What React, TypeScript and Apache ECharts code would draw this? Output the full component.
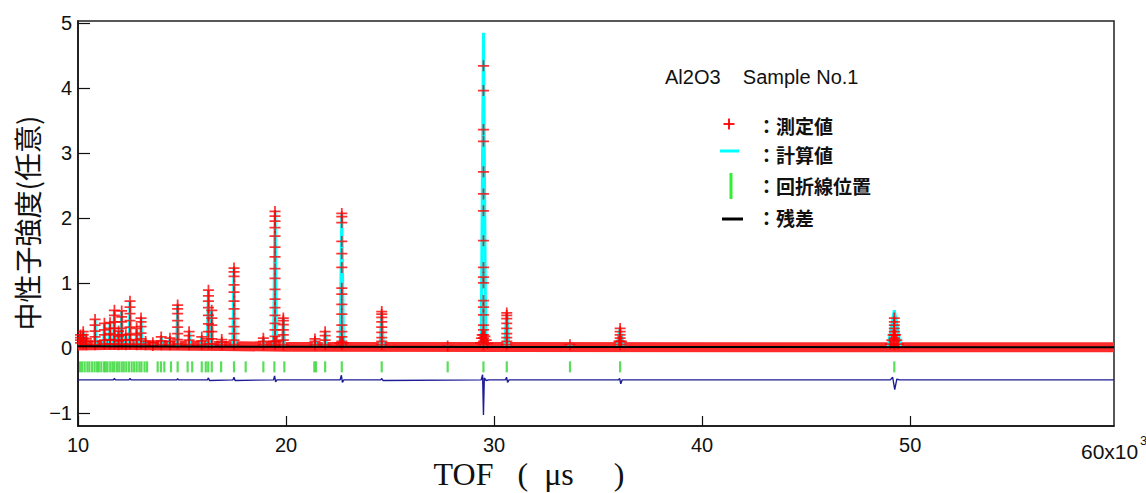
import React, { useEffect, useRef } from "react";
import * as echarts from "echarts";

// ---- axis ticks (TOF in 10^3 µs, intensity arbitrary) ----
const xTicks = [10, 20, 30, 40, 50];
const yTicks = [-1, 0, 1, 2, 3, 4, 5];

// ---- observed peaks: TOF position and stacked observed intensities ----
const peakPositions = [
  10.12, 10.25, 10.4, 10.82, 11.27, 11.54, 11.75, 11.95, 12.1, 12.3, 12.5, 12.82, 13.03, 13.25,
  13.6, 14.0, 14.42, 14.79, 15.34, 15.95, 16.27, 16.43, 16.91, 17.5, 18.91, 19.47, 19.87, 21.39,
  21.88, 22.68, 24.6, 27.77, 29.49, 30.61, 33.65, 36.06, 49.24,
];
const observedStacks = [
  [0.08, 0.12, 0.16, 0.2],
  [0.06, 0.1, 0.15, 0.2, 0.25],
  [0.05, 0.1, 0.14],
  [0.05, 0.1, 0.17, 0.26, 0.35, 0.44],
  [0.06, 0.12, 0.2, 0.28, 0.38],
  [0.06, 0.13, 0.22, 0.3, 0.39],
  [0.06, 0.12, 0.2, 0.3, 0.4, 0.5, 0.58],
  [0.05, 0.1, 0.18, 0.26],
  [0.06, 0.12, 0.2, 0.3, 0.4, 0.48, 0.57],
  [0.05, 0.12, 0.2],
  [0.06, 0.13, 0.22, 0.32, 0.42, 0.53, 0.63, 0.72],
  [0.05, 0.12, 0.2, 0.3],
  [0.06, 0.14, 0.23, 0.33, 0.4, 0.46],
  [0.05, 0.1],
  [0.04, 0.08],
  [0.05, 0.11, 0.17],
  [0.05, 0.1, 0.15],
  [0.06, 0.13, 0.22, 0.32, 0.42, 0.53, 0.6, 0.66],
  [0.05, 0.12, 0.19, 0.25],
  [0.05, 0.11, 0.17],
  [0.06, 0.14, 0.25, 0.37, 0.5, 0.62, 0.72, 0.8, 0.89],
  [0.06, 0.14, 0.25, 0.35, 0.46, 0.58],
  [0.05, 0.09, 0.13],
  [0.05, 0.12, 0.22, 0.33, 0.45, 0.6, 0.72, 0.86, 0.97, 1.1, 1.17, 1.23],
  [0.05, 0.1, 0.15],
  [0.05, 0.1, 0.18, 0.28, 0.38, 0.5, 0.62, 0.75, 0.9, 1.07, 1.22, 1.4, 1.55, 1.72, 1.85, 1.95, 2.03, 2.1],
  [0.05, 0.12, 0.2, 0.28, 0.36, 0.42, 0.46],
  [0.05, 0.1, 0.14],
  [0.05, 0.12, 0.19, 0.25],
  [0.05, 0.1, 0.17, 0.25, 0.35, 0.52, 0.67, 0.83, 0.92, 1.24, 1.45, 1.64, 1.93, 2.02, 2.07],
  [0.05, 0.1, 0.16, 0.24, 0.32, 0.4, 0.47, 0.52, 0.56],
  [0.03],
  [0.05, 0.1, 0.15, 0.2, 0.28, 0.35, 0.51, 0.63, 0.73, 1.0, 1.09, 1.24, 1.65, 2.11, 2.37, 2.71, 3.18, 3.36, 3.96, 4.34],
  [0.05, 0.1, 0.16, 0.22, 0.3, 0.38, 0.45, 0.5, 0.54],
  [0.05],
  [0.05, 0.1, 0.15, 0.2, 0.25, 0.3],
  [0.05, 0.1, 0.15, 0.2, 0.25, 0.3, 0.35, 0.4, 0.46],
];
// observed points on the flanks of the broader peaks
const observedFlanks: [number, number][] = [
  [19.4, 0.1], [19.55, 0.1], [22.6, 0.08], [22.75, 0.08],
  [29.35, 0.08], [29.4, 0.15], [29.43, 0.2], [29.56, 0.18], [29.62, 0.12], [29.68, 0.07],
  [36.0, 0.1], [36.12, 0.1],
  [49.05, 0.06], [49.12, 0.12], [49.18, 0.2], [49.3, 0.2], [49.36, 0.12], [49.43, 0.06],
];
// observed background band
const observedBackground: [number, number][] = [
  [10, 0.04], [12, 0.05], [14, 0.04], [17, 0.03], [20, 0.02], [30, 0.015], [45, 0.012], [59.8, 0.012],
];

// ---- calculated profile ----
const calcTops = [
  0.2, 0.25, 0.14, 0.44, 0.38, 0.39, 0.58, 0.26, 0.57, 0.2, 0.72, 0.3, 0.46, 0.1, 0.08, 0.17, 0.15,
  0.66, 0.25, 0.17, 0.89, 0.58, 0.13, 1.23, 0.15, 2.12, 0.46, 0.14, 0.25, 2.07, 0.56, 0.03, 4.85,
  0.54, 0.05, 0.3, 0.58,
];
const calcHalfWidths = [
  0.04, 0.04, 0.04, 0.04, 0.04, 0.04, 0.04, 0.04, 0.04, 0.04, 0.04, 0.04, 0.04, 0.04, 0.04, 0.05, 0.05,
  0.05, 0.05, 0.05, 0.05, 0.05, 0.05, 0.06, 0.06, 0.07, 0.06, 0.06, 0.06, 0.08, 0.08, 0.08, 0.11,
  0.1, 0.1, 0.16, 0.3,
];
const calcBackground: [number, number][] = [
  [10, 0.025], [20, 0.02], [30, 0.015], [59.8, 0.012],
];

// ---- reflection (diffraction line) positions ----
const reflectionPositions = [
  10.1, 10.2, 10.32, 10.45, 10.55, 10.68, 10.8, 10.92, 11.0, 11.12, 11.25, 11.33, 11.42, 11.55, 11.66,
  11.75, 11.87, 11.98, 12.1, 12.2, 12.32, 12.45, 12.58, 12.7, 12.82, 12.95, 13.05, 13.2, 13.32,
  13.83, 13.99, 14.15, 14.47, 14.79, 15.27, 15.49, 15.95, 16.14, 16.26, 16.43, 16.88, 17.5, 18.06,
  18.91, 19.44, 19.92, 21.36, 21.44, 21.88, 22.68, 24.6, 27.77, 29.49, 30.61, 33.65, 36.06, 49.24,
];
const reflectionLevel = -0.29;

// ---- residual (offset) ----
const residual: [number, number][] = [
  [10, -0.49], [11.7, -0.49], [11.75, -0.47], [11.8, -0.49], [12.45, -0.49], [12.5, -0.47], [12.55, -0.49],
  [14.75, -0.49], [14.79, -0.47], [14.83, -0.49], [16.22, -0.49], [16.27, -0.46], [16.32, -0.5],
  [17.45, -0.49], [17.5, -0.45], [17.55, -0.5], [19.4, -0.49], [19.45, -0.43], [19.5, -0.52], [19.56, -0.49],
  [22.6, -0.49], [22.66, -0.42], [22.71, -0.53], [22.78, -0.49], [24.55, -0.49], [24.6, -0.47], [24.66, -0.5],
  [29.38, -0.49], [29.45, -0.41], [29.49, -1.03], [29.53, -0.46], [29.62, -0.5], [29.75, -0.49],
  [30.55, -0.49], [30.6, -0.45], [30.65, -0.53], [30.72, -0.49],
  [35.98, -0.49], [36.04, -0.47], [36.09, -0.55], [36.16, -0.49],
  [49.05, -0.49], [49.16, -0.45], [49.26, -0.64], [49.36, -0.48], [49.5, -0.49], [59.8, -0.49],
];

const PLUS = "path://M4.2,0h1.6v4.2h4.2v1.6h-4.2v4.2h-1.6v-4.2h-4.2v-1.6h4.2z";

export default function App() {
  const ref = useRef<HTMLDivElement>(null);
  useEffect(() => {
    if (!ref.current) return;
    const chart = echarts.init(ref.current, undefined, { renderer: "svg" });

    const observedPoints: [number, number][] = [];
    peakPositions.forEach((p, i) => {
      observedStacks[i].forEach((v) => observedPoints.push([p, v]));
    });
    observedFlanks.forEach((pt) => observedPoints.push(pt));

    const calcLine: ([number, number] | null)[] = [];
    peakPositions.forEach((p, i) => {
      const w = calcHalfWidths[i];
      calcLine.push([p - w, 0.02], [p, calcTops[i]], [p + w, 0.02]);
      calcLine.push(null);
    });

    const fmt = (v: number) => (v < 0 ? "\u2212" + Math.abs(v) : String(v));
    const cjk = "'Noto Sans CJK JP', 'Noto Sans', sans-serif";
    const sans = "'Liberation Sans', Arial, sans-serif";

    chart.setOption({
      animation: false,
      backgroundColor: "#ffffff",
      grid: {
        left: 78, right: 32, top: 21, bottom: 67,
        show: true, borderColor: "#222", borderWidth: 1.5, backgroundColor: "transparent",
      },
      xAxis: {
        type: "value", min: 10, max: 59.8,
        axisLine: { show: true, onZero: false, lineStyle: { color: "#111", width: 1.5 } },
        axisTick: { show: true, inside: true, length: 10, customValues: xTicks, lineStyle: { color: "#111", width: 1.2 } },
        axisLabel: { customValues: xTicks, margin: 9, fontSize: 20, color: "#111", fontFamily: sans, formatter: fmt },
        splitLine: { show: false },
      },
      yAxis: {
        type: "value", min: -1.2, max: 5.03,
        axisLine: { show: true, onZero: false, lineStyle: { color: "#111", width: 1.5 } },
        axisTick: { show: true, inside: true, length: 12, customValues: yTicks, lineStyle: { color: "#111", width: 1.2 } },
        axisLabel: { customValues: yTicks, margin: 6, fontSize: 20, color: "#111", fontFamily: sans, formatter: fmt },
        splitLine: { show: false },
      },
      series: [
        {
          type: "line", name: "observed background", data: observedBackground, showSymbol: false, symbol: "none",
          lineStyle: { color: "#ff2a2a", width: 10 }, z: 1, silent: true,
        },
        {
          type: "line", name: "計算値", data: calcLine, showSymbol: false, symbol: "none", connectNulls: false,
          lineStyle: { color: "#00ffff", width: 3 }, z: 2, silent: true,
        },
        {
          type: "scatter", name: "測定値", data: observedPoints, symbol: PLUS, symbolSize: 11,
          itemStyle: { color: "#ff0000" }, z: 3, silent: true,
        },
        {
          type: "line", name: "background", data: calcBackground, showSymbol: false, symbol: "none",
          lineStyle: { color: "#000", width: 2 }, z: 4, silent: true,
        },
        {
          type: "scatter", name: "回折線位置", data: reflectionPositions.map((x) => [x, reflectionLevel]),
          symbol: "rect", symbolSize: [2.2, 11], itemStyle: { color: "#2fd62f" }, z: 3, silent: true,
        },
        {
          type: "line", name: "残差", data: residual, showSymbol: false, symbol: "none",
          lineStyle: { color: "#1c1c96", width: 1.4 }, z: 3, silent: true,
        },
      ],
      graphic: [
        { type: "text", x: 665, y: 77, style: { text: "Al2O3    Sample No.1", font: `20px ${sans}`, fill: "#111", verticalAlign: "middle" } },
        { type: "line", shape: { x1: 723.5, y1: 124, x2: 734.5, y2: 124 }, style: { stroke: "#ff0000", lineWidth: 1.8 } },
        { type: "line", shape: { x1: 729, y1: 118.5, x2: 729, y2: 129.5 }, style: { stroke: "#ff0000", lineWidth: 1.8 } },
        { type: "line", shape: { x1: 720, y1: 151, x2: 739, y2: 151 }, style: { stroke: "#00ffff", lineWidth: 3 } },
        { type: "line", shape: { x1: 731, y1: 173, x2: 731, y2: 199 }, style: { stroke: "#33ee33", lineWidth: 3 } },
        { type: "line", shape: { x1: 722, y1: 219, x2: 743, y2: 219 }, style: { stroke: "#000", lineWidth: 3 } },
        { type: "text", x: 757, y: 125, style: { text: "：測定値", font: `bold 19px ${cjk}`, fill: "#111", verticalAlign: "middle" } },
        { type: "text", x: 757, y: 154, style: { text: "：計算値", font: `bold 19px ${cjk}`, fill: "#111", verticalAlign: "middle" } },
        { type: "text", x: 757, y: 185, style: { text: "：回折線位置", font: `bold 19px ${cjk}`, fill: "#111", verticalAlign: "middle" } },
        { type: "text", x: 757, y: 217, style: { text: "：残差", font: `bold 19px ${cjk}`, fill: "#111", verticalAlign: "middle" } },
        {
          type: "text", x: 27, y: 223, rotation: Math.PI / 2,
          style: { text: "中性子強度(任意)", font: `28px ${cjk}`, fill: "#111", align: "center", verticalAlign: "middle" },
        },
        {
          type: "text", x: 529, y: 474,
          style: { text: "TOF   (  μs     )", font: `32px 'Liberation Serif', 'Times New Roman', serif`, fill: "#111", align: "center", verticalAlign: "middle" },
        },
        { type: "text", x: 1081, y: 451, style: { text: "60x10", font: `21px ${sans}`, fill: "#111", verticalAlign: "middle" } },
        { type: "text", x: 1140, y: 440, style: { text: "3", font: `13px ${sans}`, fill: "#111", verticalAlign: "middle" } },
      ],
    });
    return () => chart.dispose();
  }, []);
  return <div ref={ref} style={{ position: "fixed", left: 0, top: 0, width: 1146, height: 493 }} />;
}
